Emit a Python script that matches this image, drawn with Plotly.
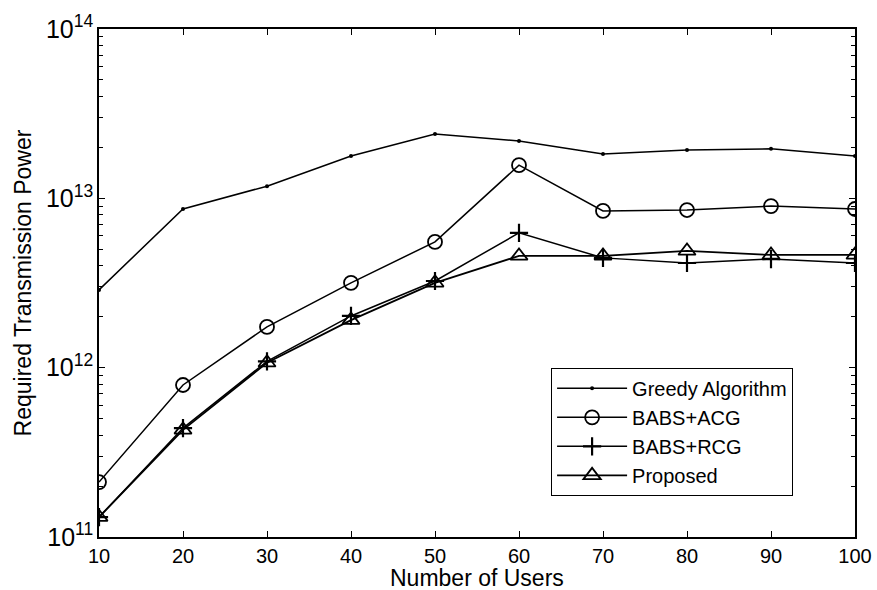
import plotly.graph_objects as go

users = [10, 20, 30, 40, 50, 60, 70, 80, 90, 100]
greedy = [2.88e12, 8.66e12, 1.18e13, 1.78e13, 2.40e13, 2.18e13, 1.83e13, 1.93e13, 1.96e13, 1.78e13]
babs_acg = [2.11e11, 7.9e11, 1.74e12, 3.17e12, 5.53e12, 1.57e13, 8.43e12, 8.53e12, 9.0e12, 8.65e12]
babs_rcg = [1.31e11, 4.4e11, 1.09e12, 2.02e12, 3.25e12, 6.25e12, 4.45e12, 4.15e12, 4.38e12, 4.15e12]
proposed = [1.31e11, 4.29e11, 1.07e12, 1.91e12, 3.17e12, 4.57e12, 4.57e12, 4.89e12, 4.63e12, 4.63e12]
names = ["Greedy Algorithm", "BABS+ACG", "BABS+RCG", "Proposed"]
x_ticks = [10, 20, 30, 40, 50, 60, 70, 80, 90, 100]
x_title = "Number of Users"
y_title = "Required Transmission Power"

FONT = "Liberation Sans, Arial, Helvetica, sans-serif"

fig = go.Figure()
fig.add_trace(go.Scatter(x=users, y=greedy, name=names[0], mode="lines+markers",
                         line=dict(color="black", width=1.5),
                         marker=dict(symbol="circle", size=4, color="black")))
fig.add_trace(go.Scatter(x=users, y=babs_acg, name=names[1], mode="lines+markers",
                         line=dict(color="black", width=1.5),
                         marker=dict(symbol="circle-open", size=14, color="black",
                                     line=dict(width=1.8, color="black"))))
fig.add_trace(go.Scatter(x=users, y=babs_rcg, name=names[2], mode="lines+markers",
                         line=dict(color="black", width=1.5),
                         marker=dict(symbol="cross-thin-open", size=13, color="black",
                                     line=dict(width=2.2, color="black"))))
fig.add_trace(go.Scatter(x=users, y=proposed, name=names[3], mode="lines+markers",
                         line=dict(color="black", width=1.8),
                         marker=dict(symbol="triangle-up-open", size=15, color="black",
                                     line=dict(width=1.8, color="black"))))

fig.update_layout(
    width=877, height=590,
    margin=dict(l=99, r=22, t=29, b=53),
    paper_bgcolor="white", plot_bgcolor="white",
    font=dict(family=FONT, color="black", size=20),
    showlegend=True,
    legend=dict(x=0.598, y=0.333, xanchor="left", yanchor="top",
                bgcolor="white", bordercolor="black", borderwidth=1,
                font=dict(family=FONT, size=20, color="black"),
                itemwidth=70, tracegroupgap=0),
    xaxis=dict(
        range=[10, 100], tickvals=x_ticks, ticktext=[str(v) for v in x_ticks],
        ticks="inside", ticklen=6, tickcolor="black", tickwidth=1,
        showline=True, linecolor="black", linewidth=1.5, mirror="ticks",
        showgrid=False, zeroline=False, automargin=False,
        tickfont=dict(family=FONT, size=20, color="black"),
    ),
    yaxis=dict(
        type="log", range=[11, 14], dtick=1, exponentformat="power",
        ticks="inside", ticklen=6, tickcolor="black", tickwidth=1,
        showline=True, linecolor="black", linewidth=1.5, mirror="ticks",
        showgrid=False, zeroline=False, automargin=False,
        minor=dict(ticks="inside", ticklen=4, tickcolor="black", dtick="D1", showgrid=False),
        tickfont=dict(family=FONT, size=20, color="black"),
        title=dict(text=y_title, font=dict(family=FONT, size=23, color="black"), standoff=8),
    ),
    annotations=[dict(text=x_title, xref="paper", yref="paper", x=0.5, y=-0.081,
                      xanchor="center", yanchor="middle", showarrow=False,
                      font=dict(family=FONT, size=23, color="black"))],
)

fig.write_html("out.html")
